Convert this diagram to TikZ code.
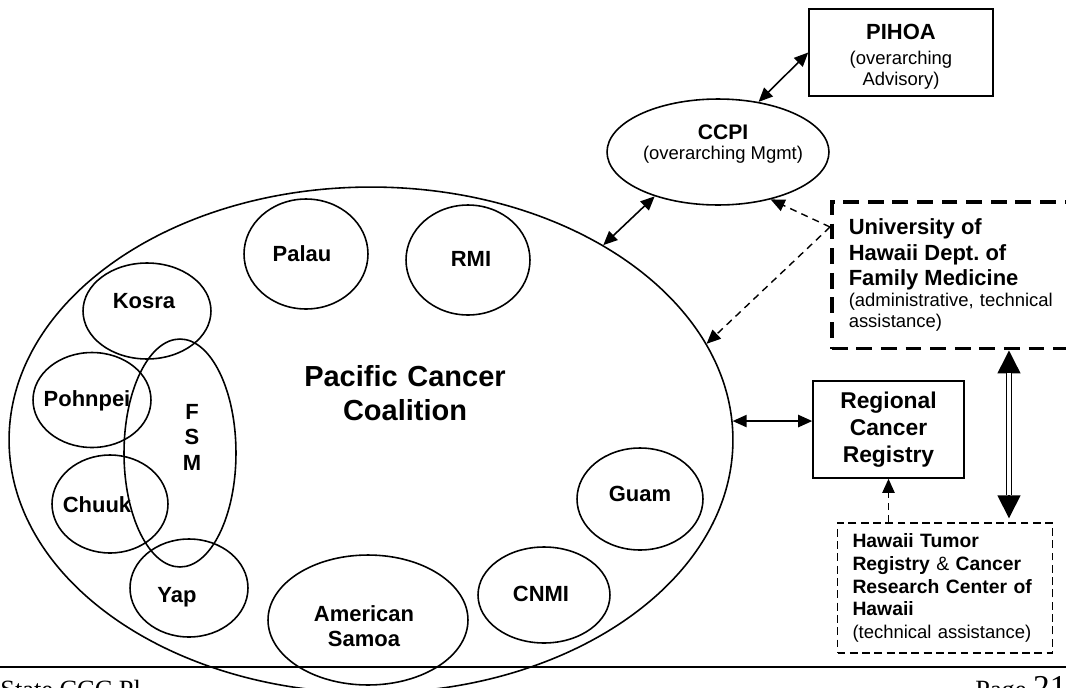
\documentclass[tikz,border=0pt]{standalone}
\usepackage{fontspec}
\setmainfont{Liberation Sans}
\newfontfamily\footfont{Liberation Serif}
\usetikzlibrary{arrows.meta, shapes.geometric}

\newcommand{\headline}[1]{{\bfseries\fontsize{12.5}{12}\selectfont #1}}

\tikzset{
	isle/.style = {draw, ellipse, line width = 0.9pt, inner sep = 0pt},
	isletext/.style = {font = \fontsize{12.5}{14.5}\selectfont\bfseries, align = center, text width = 2.4cm, inner sep = 0pt},
	titletext/.style = {font = \fontsize{16.5}{19.3}\selectfont\bfseries, align = center, text width = 4.6cm, inner sep = 0pt},
	orgbox/.style = {draw, line width = 0.9pt, inner sep = 0pt},
	uhbox/.style = {draw, line width = 2pt, dash pattern = on 9pt off 5pt},
	helpbox/.style = {draw, line width = 0.8pt, dash pattern = on 4.5pt off 2.5pt},
	link/.style = {<->, line width = 0.9pt},
	hint/.style = {->, line width = 0.8pt, dash pattern = on 4pt off 3pt},
	bigtip/.tip = {Triangle[length = 13pt, width = 13pt]},
	foot/.style = {anchor = base west, inner sep = 0pt, font = \footfont\fontsize{15}{17}\selectfont}
}

\begin{document}
\begin{tikzpicture}[> = {Triangle[length = 8pt, width = 7pt]}, x = 0.02cm, y = -0.02cm]

	% Page frame
	
	\useasboundingbox (0, 0) rectangle (1066, 687);
	\clip (0, 0) rectangle (1066, 687);

	% Coalition
	
	\node [isle, minimum width = 14.48cm, minimum height = 10.12cm] (pcc) at (371, 440) {};
	\node [titletext] (pcc-t) at (405, 393) {Pacific Cancer\\Coalition};

	% Member islands
	
	\foreach \name/\x/\y/\w/\h/\tx/\ty/\txt in {
		palau/306/254/2.48/2.2/302/254/Palau,
		rmi/468/260/2.48/2.2/471/259/RMI,
		kosra/147/311/2.56/1.92/144/301/Kosra,
		pohnpei/92/400/2.36/1.9/87/401/Pohnpei,
		fsm/180/453/2.24/4.56/192/437/{F\\S\\M},
		chuuk/110/504/2.32/1.96/97/505/Chuuk,
		yap/189/588/2.36/1.96/177/597/Yap,
		samoa/368/620/4.0/2.6/364/626/{American\\Samoa},
		cnmi/544/595/2.64/1.92/541/594/CNMI,
		guam/640/499/2.52/2.04/640/494/Guam}
	{
		\node [isle, minimum width = \w cm, minimum height = \h cm] (\name) at (\x, \y) {};
		\node [isletext] (\name-t) at (\tx, \ty) {\txt};
	}

	% Management and advisory
	
	\node [isle, minimum width = 4.44cm, minimum height = 2.12cm] (ccpi) at (718, 152) {};
	\node [align = center, inner sep = 0pt, font = \fontsize{10.5}{11}\selectfont] (ccpi-t) at (723, 144)
		{{\bfseries\fontsize{12}{11}\selectfont CCPI}\\(overarching Mgmt)};
	
	\node [orgbox, minimum width = 3.68cm, minimum height = 1.74cm, align = center,
		font = \fontsize{10.5}{11.5}\selectfont] (pihoa) at (901, 52.5)
		{{\bfseries\fontsize{12.5}{14}\selectfont\rule{0pt}{13.5pt}PIHOA}\\[2.7pt](overarching\\Advisory)};

	% Support organisations
	
	\node [uhbox, anchor = north west, text width = 4.52cm, inner xsep = 0.34cm, minimum height = 2.94cm,
		align = left, font = \fontsize{10.5}{12}\selectfont] (uh) at (830, 200)
		{\headline{University of}\\[2.5pt]\headline{Hawaii Dept.\ of}\\[2.5pt]\headline{Family Medicine}\\(administrative, technical\\assistance)};
	
	\node [orgbox, minimum width = 3.02cm, minimum height = 1.94cm, align = center,
		font = \fontsize{13}{15.3}\selectfont\bfseries] (reg) at (888.5, 429.5) {Regional\\Cancer\\Registry};
	
	\node [helpbox, text width = 3.7cm, inner xsep = 0.3cm, minimum height = 2.6cm, align = left,
		font = \fontsize{11}{13}\selectfont] (tumor) at (945, 588)
		{\textbf{Hawaii Tumor}\\\textbf{Registry} \& \textbf{Cancer}\\\textbf{Research Center of}\\\textbf{Hawaii}\\{\fontsize{10.5}{13}\selectfont (technical assistance)}};

	% Connections
	
	\draw [link] (ccpi.51) -- (pihoa.west);
	\draw [link] (ccpi.215) -- (pcc.40);
	\draw [hint] ([yshift = -0.54cm] uh.north west) -- (ccpi.-42);
	\draw [hint] ([yshift = -0.54cm] uh.north west) -- (pcc.16);
	\draw [link] (pcc.3) -- (pcc.3 -| reg.west);
	\draw [hint] (reg.south |- tumor.north) -- (reg.south);
	
	% Double link
	
	\draw [bigtip-bigtip, line width = 0.8pt] ([xshift = 1.28cm] tumor.north |- uh.south) -- ([xshift = 1.28cm, yshift = 0.08cm] tumor.north);
	\draw [double, line width = 0.8pt, double distance = 2.2pt, shorten < = 13pt, shorten > = 13pt]
		([xshift = 1.28cm] tumor.north |- uh.south) -- ([xshift = 1.28cm, yshift = 0.08cm] tumor.north);

	% Footer
	
	\draw [line width = 1.5pt] (0, 667) -- (1066, 667);
	\node [foot] (plan) at (0, 698) {State CCC Pl};
	\node [foot] (page) at (975, 698) {Page {\fontsize{19}{19}\selectfont 21}};

\end{tikzpicture}
\end{document}
